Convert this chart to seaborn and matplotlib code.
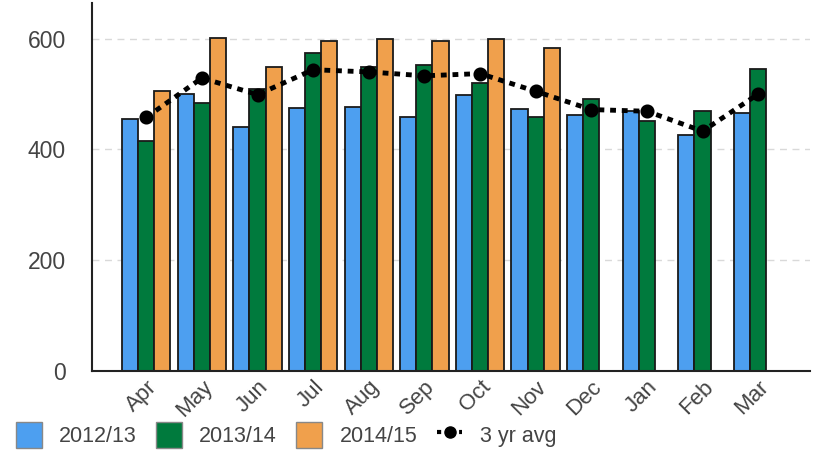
import numpy as np
import pandas as pd
import seaborn as sns
import matplotlib
matplotlib.use("Agg")
import matplotlib.pyplot as plt
from matplotlib.patches import Patch
from matplotlib.lines import Line2D

months = ["Apr", "May", "Jun", "Jul", "Aug", "Sep", "Oct", "Nov", "Dec", "Jan", "Feb", "Mar"]
years = ["2012/13", "2013/14", "2014/15"]
y2012 = [455, 501, 441, 474, 477, 459, 498, 473, 462, 469, 426, 465]
y2013 = [415, 483, 509, 574, 549, 552, 520, 459, 491, 452, 470, 545]
y2014 = [506, 602, 549, 596, 599, 596, 599, 584, np.nan, np.nan, np.nan, np.nan]
avg3 = [458, 529, 499, 544, 540, 533, 537, 505, 472, 469, 433, 500]

colors = ["#4d9ff0", "#007a3d", "#f0a04c"]

df = pd.DataFrame({
    "month": months * 3,
    "year": [years[0]] * 12 + [years[1]] * 12 + [years[2]] * 12,
    "value": y2012 + y2013 + y2014,
})

sns.set_style("white")
plt.rcParams["font.family"] = ["Liberation Sans", "DejaVu Sans"]

fig = plt.figure(figsize=(8.17, 4.54), dpi=100)
ax = fig.add_axes([0.113, 0.183, 0.879, 0.811])

sns.barplot(data=df, x="month", y="value", hue="year", order=months,
            hue_order=years, palette=colors, saturation=1, width=0.87, gap=0,
            edgecolor="#1a1a1a", linewidth=1.3, legend=False, ax=ax)

sns.pointplot(x=months, y=avg3, color="black", markers="o",
              linestyles=":", markersize=7.5, linewidth=3.5, ax=ax)
for ln in ax.lines:
    ln.set_dashes((1.2, 1.2))

ax.set_xlim(-0.97, 11.94)
ax.set_ylim(0, 665)
ax.set_yticks([0, 200, 400, 600])
ax.set_xlabel("")
ax.set_ylabel("")
ax.yaxis.grid(True, color="#d9d9d9", linestyle=(0, (5, 4)), linewidth=1)
ax.set_axisbelow(True)
for s in ["top", "right"]:
    ax.spines[s].set_visible(False)
for s in ["left", "bottom"]:
    ax.spines[s].set_color("#222222")
    ax.spines[s].set_linewidth(1.5)

ax.tick_params(axis="y", length=5, width=1, color="#222222", labelsize=16.5,
               labelcolor="#444444", pad=14)
ax.tick_params(axis="x", length=0, labelsize=16, labelcolor="#444444", pad=4)
plt.setp(ax.get_xticklabels(), rotation=45, ha="right", rotation_mode="anchor")

handles = [Patch(facecolor=c, edgecolor="#888888", linewidth=1) for c in colors]
handles.append(Line2D([], [], color="black", linestyle=":", linewidth=3,
                      marker="o", markersize=8, markevery=[1]))
fig.legend(handles, years + ["3 yr avg"], loc="lower left",
           bbox_to_anchor=(-0.004, -0.03), ncol=4, frameon=False,
           fontsize=15.5, labelcolor="#444444", handlelength=1.2,
           handleheight=1.5, handletextpad=0.8, columnspacing=0.9)

fig.savefig("out.png", dpi=100)
